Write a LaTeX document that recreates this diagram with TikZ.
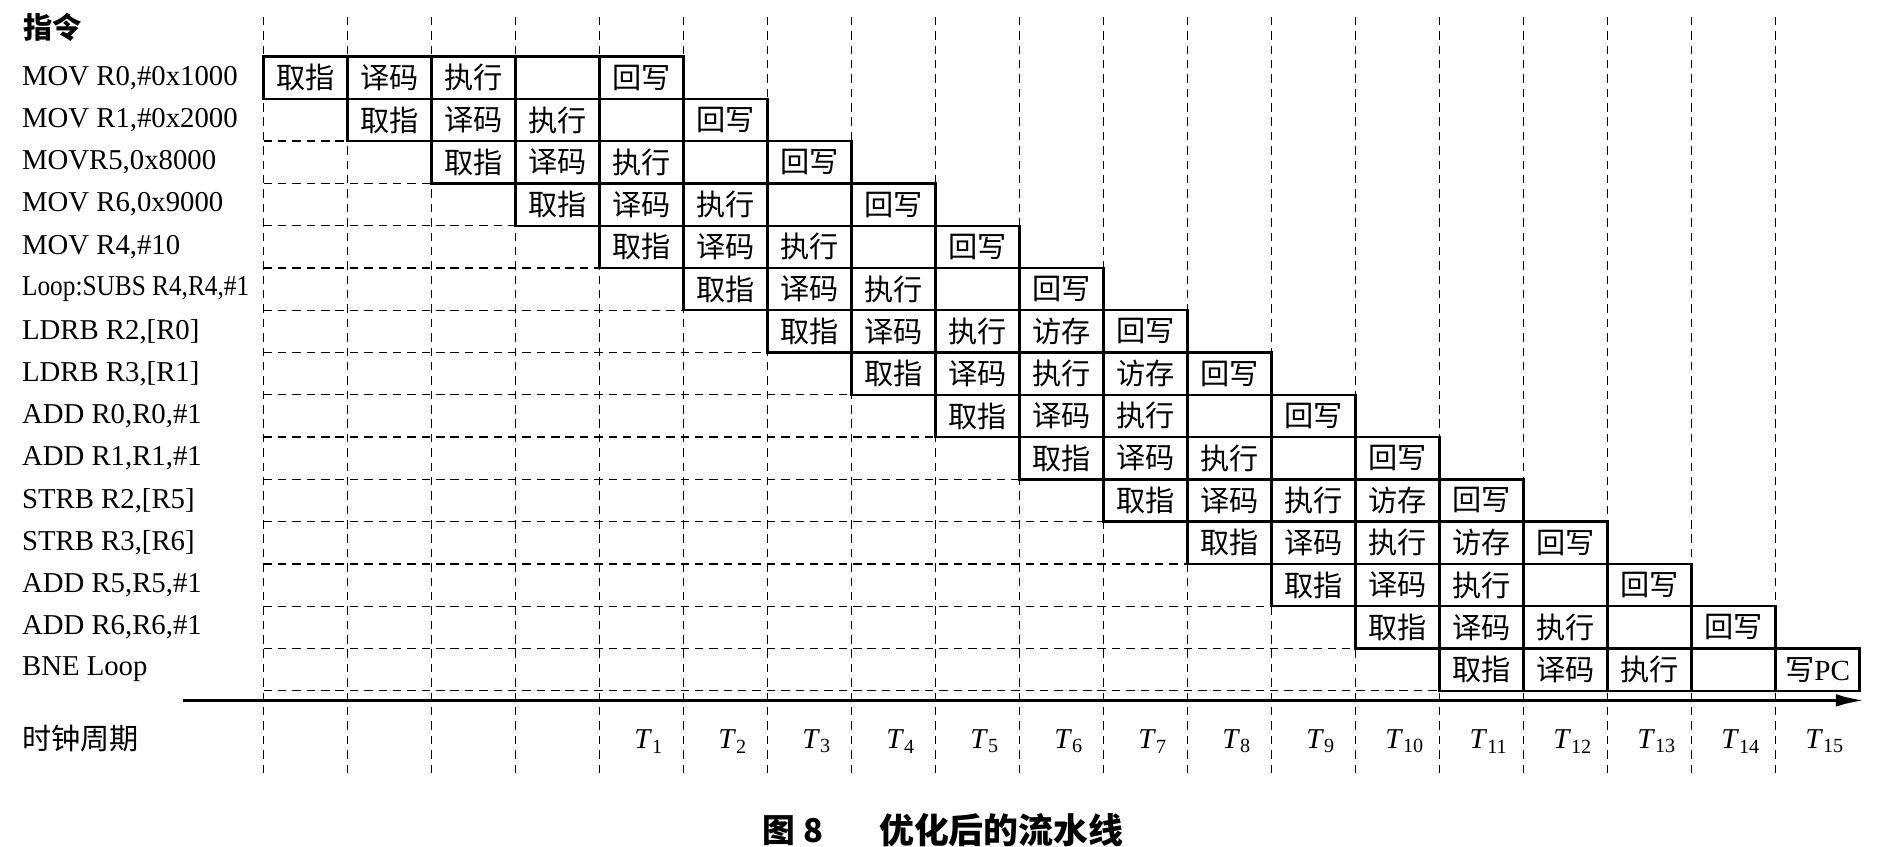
\documentclass[tikz,border=0pt]{standalone}
\usepackage{fontspec}
\usepackage{graphicx}
\setmainfont{Liberation Serif}
\newfontfamily\cjk{Noto Sans CJK SC}
\usetikzlibrary{arrows.meta,positioning}

\tikzset{
  stage/.style={draw, line width=1.1pt, minimum width=1.396cm, minimum height=0.7026cm, inner sep=0pt, font=\cjk\fontsize{13.8}{16}\selectfont},
  instr/.style={anchor=west, inner sep=0pt, font=\fontsize{13.6}{16}\selectfont},
  gridline/.style={line width=0.6pt, dash pattern=on 4pt off 2.8pt},
  tick/.style={inner sep=0pt, font=\fontsize{13.6}{16}\selectfont}
}

\begin{document}
\begin{tikzpicture}[x=0.02cm, y=-0.02cm]
\useasboundingbox (0,0) rectangle (1568,703);
% Grid
\foreach \k in {0,...,18}
  \draw[gridline] (219+69.8*\k,14) -- (219+69.8*\k,645);
\foreach \r in {1,...,14}
  \draw[gridline] (219,47+35.13*\r+35.13) -- (219+69.8*\r,47+35.13*\r+35.13);
% Instructions and stages
\foreach \name/\st [count=\r from 0] in {
  {MOV R0,\#0x1000}/{取指,译码,执行,,回写},
  {MOV R1,\#0x2000}/{取指,译码,执行,,回写},
  {MOVR5,0x8000}/{取指,译码,执行,,回写},
  {MOV R6,0x9000}/{取指,译码,执行,,回写},
  {MOV R4,\#10}/{取指,译码,执行,,回写},
  {\scalebox{0.88}[1]{Loop:SUBS R4,R4,\#1}}/{取指,译码,执行,,回写},
  {LDRB R2,[R0]}/{取指,译码,执行,访存,回写},
  {LDRB R3,[R1]}/{取指,译码,执行,访存,回写},
  {ADD R0,R0,\#1}/{取指,译码,执行,,回写},
  {ADD R1,R1,\#1}/{取指,译码,执行,,回写},
  {STRB R2,[R5]}/{取指,译码,执行,访存,回写},
  {STRB R3,[R6]}/{取指,译码,执行,访存,回写},
  {ADD R5,R5,\#1}/{取指,译码,执行,,回写},
  {ADD R6,R6,\#1}/{取指,译码,执行,,回写},
  {BNE Loop}/{取指,译码,执行,,写{\rmfamily PC}}} {
  \node[instr] (i\r) at (18,47+35.13*\r+17.57) {\name};
  \foreach \s [count=\j from 0] in \st
    \node[stage] (s\r-\j) at (219+69.8*\r+69.8*\j+34.9,47+35.13*\r+17.57) {\s};
}
% Axis
\coordinate (axis start) at (152,582);
\coordinate (axis end) at (1550,582);
\draw[line width=1.8pt, -{Latex[length=14pt,width=6pt]}] (axis start) -- (axis end);
\foreach \t in {1,...,15}
  \node[tick] (t\t) at (219+69.8*\t+69.8*3+34.9+6,616) {\textit{T}\textsubscript{\t}};
% Labels
\node[instr, font=\cjk\bfseries\fontsize{13.8}{16}\selectfont] (head) at (19,23) {指令};
\node[instr, font=\cjk\fontsize{13.8}{16}\selectfont] (clock) at (18,614) {时钟周期};
\node[font=\cjk\bfseries\fontsize{15.5}{18}\selectfont] (fignum) at (659,690) {图 8};
\node[font=\cjk\bfseries\fontsize{16.5}{18}\selectfont] (figtitle) at (832,690) {优化后的流水线};
\end{tikzpicture}
\end{document}
